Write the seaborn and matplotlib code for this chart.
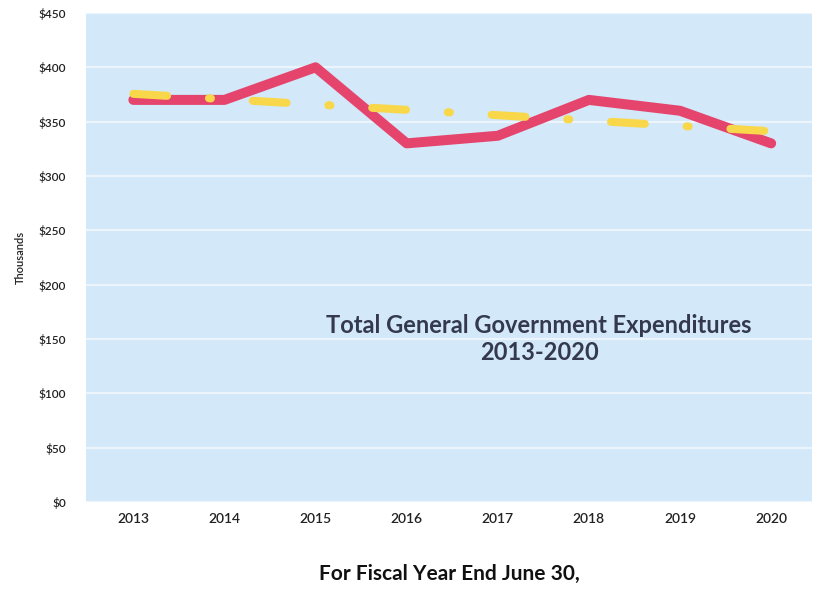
import matplotlib
matplotlib.use("Agg")
import matplotlib.pyplot as plt
import seaborn as sns
import pandas as pd
from matplotlib.ticker import FuncFormatter, MultipleLocator

# Total general government expenditures, thousands of dollars
years = [2013, 2014, 2015, 2016, 2017, 2018, 2019, 2020]
expenditures = [370, 370, 400, 330, 337, 370, 360, 330]

df = pd.DataFrame({"year": years, "expenditures": expenditures})

sns.set_theme(style="white")
plt.rcParams["font.family"] = ["Lato", "DejaVu Sans"]

fig = plt.figure(figsize=(8.22, 5.89), dpi=100)
ax = fig.add_axes([0.1046, 0.1477, 0.8834, 0.8303])
ax.set_facecolor("#d3e8f8")

# Main series
sns.lineplot(data=df, x="year", y="expenditures", ax=ax, color="#e5446d",
             linewidth=7.2, solid_capstyle="round", solid_joinstyle="round",
             zorder=3)

# Linear trend line, dash-dot
sns.regplot(data=df, x="year", y="expenditures", ax=ax, ci=None, scatter=False,
            truncate=True,
            line_kws=dict(color="#f8d84a", linewidth=5.8, zorder=4,
                          dash_capstyle="round"))
trend = ax.lines[-1]
trend.set_dashes((4.2, 5.2, 0.25, 5.2))

ax.set_ylim(0, 450)
ax.set_xlim(2012.48, 2020.45)
ax.set_xticks(years)
ax.set_xticklabels([str(y) for y in years], fontsize=10, fontweight="semibold",
                   color="#222222")
ax.yaxis.set_major_locator(MultipleLocator(50))
ax.yaxis.set_major_formatter(FuncFormatter(lambda v, p: f"${v:.0f}"))
for lab in ax.get_yticklabels():
    lab.set_fontsize(8.5)
    lab.set_fontweight("semibold")
    lab.set_color("#222222")
ax.tick_params(axis="y", length=0, pad=14.5)
ax.tick_params(axis="x", length=0, pad=8)

ax.grid(axis="y", color="white", linewidth=1.6, alpha=0.6)
ax.set_axisbelow(True)
for s in ax.spines.values():
    s.set_visible(False)

ax.set_ylabel("Thousands", fontsize=8, fontweight="semibold", color="#222222",
              labelpad=9)
ax.set_xlabel("For Fiscal Year End June 30,", fontsize=15, fontweight="bold",
              color="#111111", labelpad=28)

ax.text(0.624, 0.334, "Total General Government Expenditures\n2013-2020",
        transform=ax.transAxes, ha="center", va="center", fontsize=17,
        fontweight="bold", color="#34394f", linespacing=1.2)

fig.savefig("out.png", dpi=100, facecolor="white")
